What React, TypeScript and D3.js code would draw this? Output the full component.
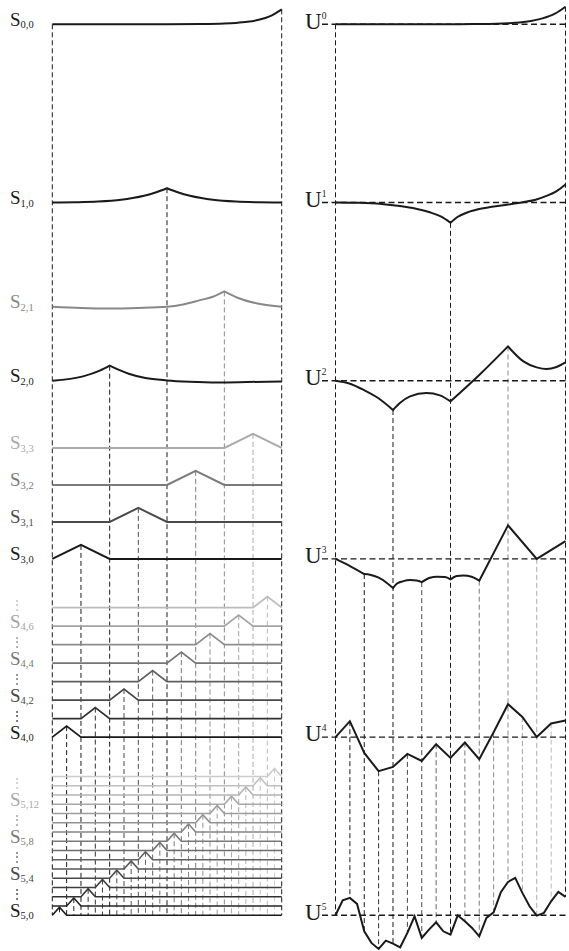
import React from "react";
import * as d3 from "d3";

type P = [number, number];

const W = 569;
const H = 951;

// ---- data: basis function shapes (t in [0,1], height) ----
const S00: P[][] = [[[0, 0], [0.5, 0.1], [0.65, 0.25], [0.75, 0.75], [0.8, 1.4], [0.85, 2.5], [0.9, 4.5], [0.95, 8.2], [1, 15]]];
const S10: P[][] = [
  [[0, 0], [0.1, 0.3], [0.2, 1], [0.3, 2.8], [0.35, 4.5], [0.4, 6.8], [0.45, 10], [0.5, 14.3]],
  [[0.5, 14.3], [0.55, 10], [0.6, 6.8], [0.65, 4.5], [0.7, 2.8], [0.8, 1], [0.9, 0.3], [1, 0]],
];
const S20: P[][] = [
  [[0, 0], [0.134, 4.3], [0.207, 10], [0.25, 15]],
  [[0.25, 15], [0.283, 11.5], [0.333, 7], [0.406, 2.7], [0.5, 0.3], [0.6, -1], [0.72, -1.7], [0.85, -1.3], [1, -0.7]],
];
const S21: P[][] = [
  [[0, 0], [0.125, -1.2], [0.25, -1.7], [0.375, -1.2], [0.5, 0], [0.57, 2.3], [0.64, 6.3], [0.7, 10], [0.75, 15.3]],
  [[0.75, 15.3], [0.81, 8.7], [0.9, 3], [1, 0]],
];
const hatHeights = [14, 11, 8]; // levels 3, 4, 5

// ---- data: approximations U^j ----
const U0: P[][] = [[[0, 0], [0.5, 0.05], [0.6, 0.2], [0.7, 0.6], [0.75, 1.1], [0.8, 1.9], [0.85, 3.4], [0.9, 5.9], [0.95, 10.1], [1, 17.6]]];
const U1: P[][] = [
  [[0, 0], [0.1, -0.3], [0.2, -1.4], [0.28, -3.5], [0.35, -6.2], [0.41, -9.8], [0.46, -14.2], [0.5, -20.3]],
  [[0.5, -20.3], [0.53, -14.5], [0.57, -10.2], [0.62, -6.8], [0.68, -4.2], [0.75, -2], [0.82, 0.5], [0.87, 2.8], [0.92, 6.8], [0.96, 11.2], [1, 18]],
];
const U2: P[][] = [
  [[0, 0], [0.06, -2.8], [0.125, -9.5], [0.19, -18], [0.25, -29.3]],
  [[0.25, -29.3], [0.28, -22.3], [0.324, -15.7], [0.396, -12.3], [0.454, -14.7], [0.5, -20.7]],
  [[0.5, -20.7], [0.625, 5.7], [0.75, 34.3]],
  [[0.75, 34.3], [0.817, 19.3], [0.875, 13.3], [0.918, 11.7], [0.961, 13.7], [1, 18.3]],
];
const U3: P[][] = [
  [[0, 0], [0.034, -3.8], [0.063, -7.2], [0.125, -15.2]],
  [[0.125, -15.2], [0.15, -15.8], [0.188, -18.8], [0.222, -23.8], [0.25, -29.2]],
  [[0.25, -29.2], [0.266, -24.8], [0.295, -22.2], [0.324, -21.2], [0.353, -21.5], [0.375, -23.2]],
  [[0.375, -23.2], [0.411, -18.8], [0.44, -17.8], [0.476, -18.2], [0.5, -20.5]],
  [[0.5, -20.5], [0.527, -17.2], [0.556, -16.5], [0.592, -17.8], [0.625, -21.8]],
  [[0.625, -21.8], [0.75, 33.5]],
  [[0.75, 33.5], [0.875, 0]],
  [[0.875, 0], [1, 17.8]],
];
const U4: number[] = [0, 15.9, -15.8, -34.1, -29.8, -16.8, -23.8, -7.1, -20.8, -5.4, -22.1, 4.9, 32.9, 20.2, 0, 13.6, 16.6];
const U5: number[] = [
  0, 15, 17.4, 11.4, -16, -27.6, -33.6, -25.3, -28.3, -32, -17.6, -1, -22.6, -14.3, -7, -16, -19.3,
  0, -6, -12.6, -21, -2.6, 3, 23, 33.4, 37.4, 22.4, 9, -0.3, 2.4, 14, 23.4, 18.4,
];

const labeledRows4 = [0, 2, 4, 6];
const dotRows4 = [1, 3, 5, 7];
const labeledRows5 = [0, 4, 8, 12];
const dotRows5 = [2, 6, 10, 14];
const lightEnd: Record<number, string> = { 2: "#888888", 3: "#aaaaaa", 4: "#bbbbbb", 5: "#cccccc" };

const SERIF = "'Liberation Serif', 'Times New Roman', serif";

function evalSegs(segs: P[][], t: number): number {
  for (const s of segs) {
    for (let i = 0; i < s.length; i++) {
      if (Math.abs(s[i][0] - t) < 1e-9) return s[i][1];
      if (i > 0 && s[i - 1][0] < t && s[i][0] > t) {
        const a = s[i - 1], b = s[i];
        return a[1] + ((b[1] - a[1]) * (t - a[0])) / (b[0] - a[0]);
      }
    }
  }
  return 0;
}

const rowsAt = (j: number) => (j < 2 ? 1 : 2 ** (j - 1));
const colorFor = (j: number, k: number) => {
  const n = rowsAt(j);
  if (n === 1) return "#1a1a1a";
  return d3.interpolateRgb("#1a1a1a", lightEnd[j])(k / (n - 1));
};

export default function App() {
  const xL = d3.scaleLinear().domain([0, 1]).range([52.3, 281.7]);
  const xR = d3.scaleLinear().domain([0, 1]).range([335.5, 565.5]);
  const levelY = d3.scaleLinear().domain([0, 5]).range([24.3, 915.3]);
  const rowY = (j: number, k: number) => levelY(j) - (k * 296) / 2 ** j;
  const yFor = (base: number) => d3.scaleLinear().domain([0, 1]).range([base, base - 1]);

  const pathOf = (segs: P[][], xs: d3.ScaleLinear<number, number>, ys: d3.ScaleLinear<number, number>, curve: d3.CurveFactory) => {
    const ln = d3.line<P>().x((d) => xs(d[0])).y((d) => ys(d[1])).curve(curve);
    return segs.map((s, i) => { const str = ln(s) || ""; return i === 0 ? str : str.replace(/^M/, "L"); }).join("");
  };

  type Row = { j: number; k: number; segs: P[][]; vts: number[]; curve: d3.CurveFactory };
  const sRows: Row[] = [
    { j: 0, k: 0, segs: S00, vts: [0, 1], curve: d3.curveMonotoneX },
    { j: 1, k: 0, segs: S10, vts: [0.5], curve: d3.curveMonotoneX },
    { j: 2, k: 0, segs: S20, vts: [0.25], curve: d3.curveMonotoneX },
    { j: 2, k: 1, segs: S21, vts: [0.75], curve: d3.curveMonotoneX },
  ];
  for (let j = 3; j <= 5; j++) {
    const n = rowsAt(j);
    const h = hatHeights[j - 3];
    for (let k = 0; k < n; k++) {
      const pts: P[] = [];
      if (k > 0) pts.push([0, 0]);
      pts.push([k / n, 0], [(k + 0.5) / n, h], [(k + 1) / n, 0]);
      if (k < n - 1) pts.push([1, 0]);
      sRows.push({ j, k, segs: [pts], vts: [(k + 0.5) / n], curve: d3.curveLinear });
    }
  }
  const bottomL = levelY(5);
  const strokeW = (j: number) => (j <= 3 ? 2 : j === 4 ? 1.8 : 1.6);

  const uSegs: P[][][] = [U0, U1, U2, U3, [U4.map((v, i) => [i / 16, v] as P)], [U5.map((v, i) => [i / 32, v] as P)]];
  const uCurves = [d3.curveMonotoneX, d3.curveMonotoneX, d3.curveMonotoneX, d3.curveMonotoneX, d3.curveLinear, d3.curveLinear];
  const uVts: number[][] = [[0, 1], [0.5], [0.25, 0.75], [1, 3, 5, 7].map((v) => v / 8), d3.range(1, 16, 2).map((v) => v / 16)];

  const labelRows: { j: number; k: number; kind: "label" | "dots" }[] = [
    { j: 0, k: 0, kind: "label" }, { j: 1, k: 0, kind: "label" },
    { j: 2, k: 0, kind: "label" }, { j: 2, k: 1, kind: "label" },
    ...[0, 1, 2, 3].map((k) => ({ j: 3, k, kind: "label" as const })),
    ...labeledRows4.map((k) => ({ j: 4, k, kind: "label" as const })),
    ...dotRows4.map((k) => ({ j: 4, k, kind: "dots" as const })),
    ...labeledRows5.map((k) => ({ j: 5, k, kind: "label" as const })),
    ...dotRows5.map((k) => ({ j: 5, k, kind: "dots" as const })),
  ];

  return (
    <svg width={W} height={H} viewBox={`0 0 ${W} ${H}`} style={{ position: "absolute", left: 0, top: 0, display: "block", background: "#fff" }}>
      <rect width={W} height={H} fill="#fff" />
      <g strokeDasharray="5,3" strokeWidth={1} fill="none">
        {sRows.flatMap((r, ri) =>
          r.vts.map((t, vi) => {
            const ys = yFor(rowY(r.j, r.k));
            return <line key={`lv${ri}-${vi}`} x1={xL(t)} x2={xL(t)} y1={ys(evalSegs(r.segs, t))} y2={bottomL} stroke={colorFor(r.j, r.k)} />;
          })
        )}
      </g>
      <g strokeDasharray="5,3" strokeWidth={1} fill="none">
        {uVts.flatMap((ts, j) =>
          ts.map((t, vi) => {
            const y1 = yFor(levelY(j))(evalSegs(uSegs[j], t));
            const y2 = yFor(levelY(5))(U5[Math.round(t * 32)]);
            const k = j < 2 ? 0 : Math.min(rowsAt(j) - 1, Math.floor(t * rowsAt(j)));
            return <line key={`rv${j}-${vi}`} x1={xR(t)} x2={xR(t)} y1={y1} y2={y2} stroke={colorFor(j, k)} />;
          })
        )}
      </g>
      <g strokeDasharray="6,3.5" strokeWidth={1.4} stroke="#1a1a1a">
        {d3.range(6).map((j) => (
          <line key={`hb${j}`} x1={322} x2={569} y1={levelY(j)} y2={levelY(j)} />
        ))}
      </g>
      <g fill="none" strokeLinejoin="miter" strokeMiterlimit={10}>
        {sRows.map((r, ri) => (
          <path key={`s${ri}`} d={pathOf(r.segs, xL, yFor(rowY(r.j, r.k)), r.curve)} stroke={colorFor(r.j, r.k)} strokeWidth={strokeW(r.j)} />
        ))}
      </g>
      <g fill="none" stroke="#1a1a1a" strokeWidth={2} strokeLinejoin="miter" strokeMiterlimit={10}>
        {uSegs.map((segs, j) => (
          <path key={`u${j}`} d={pathOf(segs, xR, yFor(levelY(j)), uCurves[j])} />
        ))}
      </g>
      <g fontFamily={SERIF}>
        {labelRows.map((l) => {
          const y = rowY(l.j, l.k);
          const c = colorFor(l.j, l.k);
          if (l.kind === "dots")
            return (
              <text key={`d${l.j}-${l.k}`} x={17} y={y + 1.5} fontSize={12} fill={c} textAnchor="middle" fontFamily="'DejaVu Serif', serif">⋮</text>
            );
          return (
            <text key={`l${l.j}-${l.k}`} x={10} y={y + 1.5} fontSize={19} fill={c}>
              S<tspan fontSize={10.5} dy={2.5}>{`${l.j},${l.k}`}</tspan>
            </text>
          );
        })}
      </g>
      <g fontFamily={SERIF} fill="#1a1a1a">
        {d3.range(6).map((j) => (
          <text key={`ul${j}`} x={305} y={levelY(j) + 4.3} fontSize={23}>
            U<tspan fontSize={9.5} dy={-10}>{j}</tspan>
          </text>
        ))}
      </g>
    </svg>
  );
}
